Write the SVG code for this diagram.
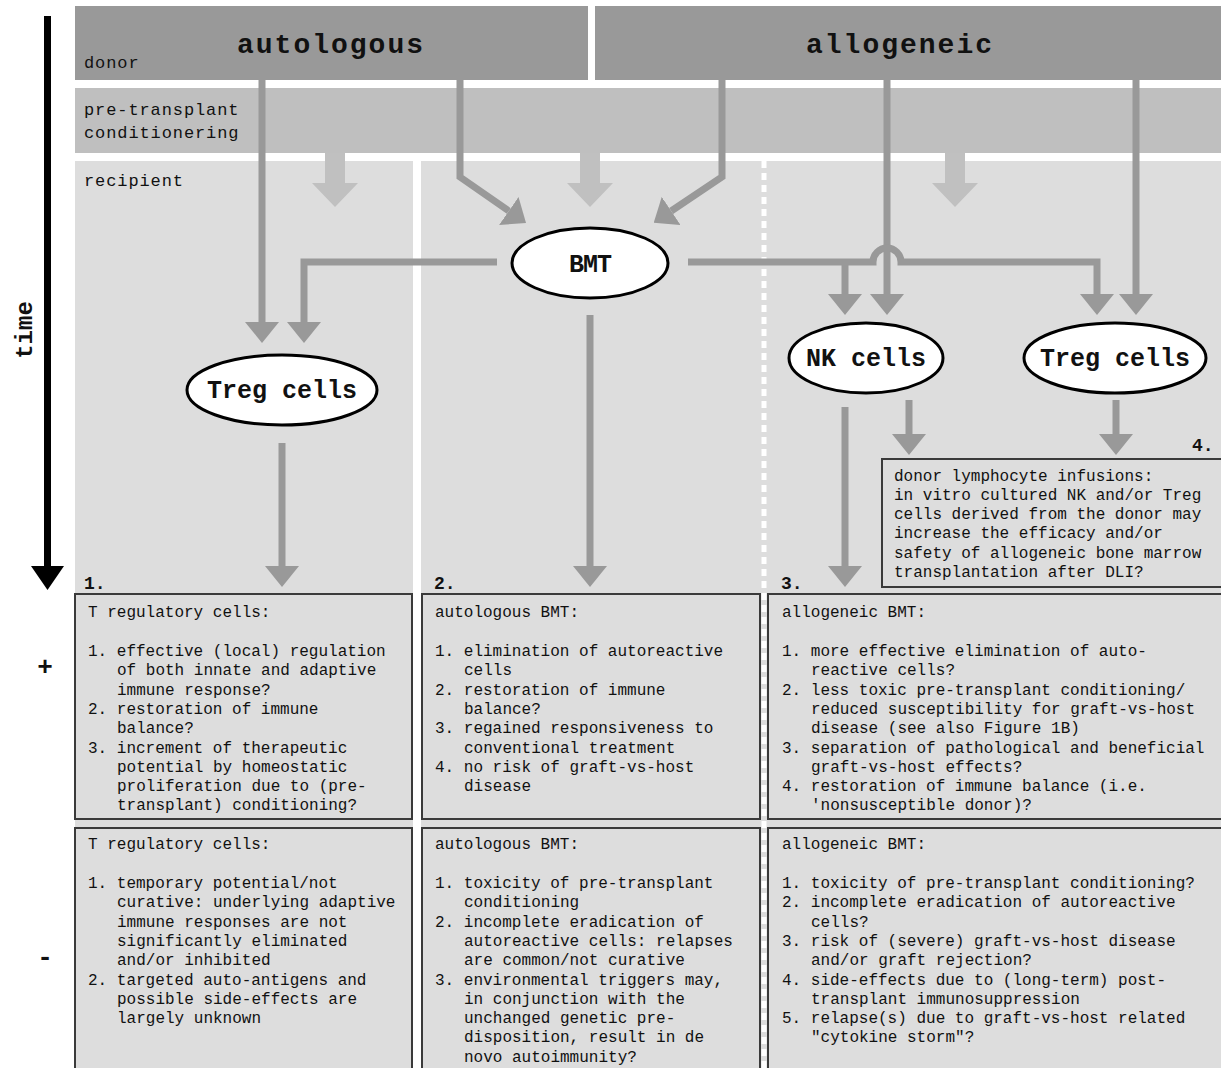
<svg xmlns="http://www.w3.org/2000/svg" width="1221" height="1068" viewBox="0 0 1221 1068">
<style>
.mono{font-family:"Liberation Mono","DejaVu Sans Mono",monospace;fill:#111}
.title{font-size:28px;font-weight:bold;letter-spacing:2px}
.lbl{font-size:17px;letter-spacing:0.9px}
.txt{font-size:16px}
.ell{fill:#fff;stroke:#000;stroke-width:3}
.elltxt{font-size:25px;font-weight:bold}
.box{fill:#dddddd;stroke:#3a3a3a;stroke-width:2}
.conn{fill:none;stroke:#999;stroke-width:7;marker-end:url(#ah)}
.num{font-size:18px;font-weight:bold}
</style>
<defs>
<marker id="ah" markerUnits="userSpaceOnUse" viewBox="0 0 21 34" markerWidth="21" markerHeight="34" refX="0" refY="17" orient="auto">
<path d="M0,0 L21,17 L0,34 z" fill="#999"/>
</marker>
</defs>
<rect width="1221" height="1068" fill="#fff"/>

<g id="bands">
<rect x="75" y="6" width="513" height="74" fill="#999"/>
<rect x="595" y="6" width="626" height="74" fill="#999"/>
<rect x="75" y="88" width="1146" height="65" fill="#bfbfbf"/>
<rect x="75" y="161" width="1146" height="907" fill="#dddddd"/>
<rect x="413" y="161" width="8" height="907" fill="#fff"/>
<line x1="764" y1="161" x2="764" y2="1068" stroke="#fff" stroke-width="5" stroke-dasharray="7 5"/>
<text class="mono title" x="331" y="53" text-anchor="middle">autologous</text>
<text class="mono title" x="900" y="53" text-anchor="middle">allogeneic</text>
<text class="mono lbl" x="84" y="68">donor</text>
<text class="mono lbl" x="84" y="115">pre-transplant</text>
<text class="mono lbl" x="84" y="138">conditionering</text>
<text class="mono lbl" x="84" y="186">recipient</text>
</g>

<g id="conditioning-arrows" fill="#c0c0c0">
<polygon points="325,153 345,153 345,183 358,183 335,207 312,183 325,183"/>
<polygon points="580,153 600,153 600,183 613,183 590,207 567,183 580,183"/>
<polygon points="945,153 965,153 965,183 978,183 955,207 932,183 945,183"/>
</g>

<g id="time-axis">
<line x1="47.5" y1="16" x2="47.5" y2="568" stroke="#000" stroke-width="7"/>
<polygon points="31,566 64,566 47.5,590" fill="#000"/>
<text class="mono" x="32" y="330" font-size="24" font-weight="bold" text-anchor="middle" transform="rotate(-90 32 330)">time</text>
<text class="mono" x="45" y="675" font-size="26" font-weight="bold" text-anchor="middle">+</text>
<text class="mono" x="45" y="965" font-size="26" font-weight="bold" text-anchor="middle">-</text>
</g>

<g id="connectors">
<path class="conn" d="M262,80 V322"/>
<path class="conn" d="M497,262 H304 V322"/>
<path class="conn" d="M460,80 V177 L508.8,211"/>
<path class="conn" d="M722,80 V177 L671.2,211"/>
<path class="conn" d="M887,80 V294"/>
<path class="conn" d="M1136,80 V294"/>
<path class="conn" d="M688,262 H873 A14,14 0 0 1 901,262 H1097 V294"/>
<path class="conn" d="M845,262 V294"/>
<path class="conn" d="M590,315 V566"/>
<path class="conn" d="M282,443 V566"/>
<path class="conn" d="M845,407 V566"/>
<path class="conn" d="M909,400 V434"/>
<path class="conn" d="M1116,400 V434"/>
</g>

<g id="node-bmt">
<ellipse class="ell" cx="590" cy="263" rx="78" ry="35"/>
<text class="mono elltxt" x="590" y="272" text-anchor="middle" font-size="27" letter-spacing="-1">BMT</text>
</g>
<g id="node-treg-auto">
<ellipse class="ell" cx="282" cy="390" rx="95" ry="35"/>
<text class="mono elltxt" x="282" y="398" text-anchor="middle">Treg cells</text>
</g>
<g id="node-nk">
<ellipse class="ell" cx="866" cy="358" rx="77" ry="35"/>
<text class="mono elltxt" x="866" y="366" text-anchor="middle">NK cells</text>
</g>
<g id="node-treg-allo">
<ellipse class="ell" cx="1115" cy="358" rx="91" ry="35"/>
<text class="mono elltxt" x="1115" y="366" text-anchor="middle">Treg cells</text>
</g>

<g id="labels">
<text class="mono num" x="84" y="589">1.</text>
<text class="mono num" x="434" y="589">2.</text>
<text class="mono num" x="781" y="589">3.</text>
<text class="mono num" x="1192" y="451">4.</text>
</g>

<g id="box4">
<rect class="box" x="882" y="459" width="345" height="128"/>
<text class="mono txt" x="894" y="481">donor lymphocyte infusions:</text>
<text class="mono txt" x="894" y="500">in vitro cultured NK and/or Treg</text>
<text class="mono txt" x="894" y="519">cells derived from the donor may</text>
<text class="mono txt" x="894" y="538">increase the efficacy and/or</text>
<text class="mono txt" x="894" y="558">safety of allogeneic bone marrow</text>
<text class="mono txt" x="894" y="577">transplantation after DLI?</text>
</g>

<g id="box1-plus">
<rect class="box" x="75" y="594" width="337" height="225"/>
<text class="mono txt" x="88" y="617">T regulatory cells:</text>
<text class="mono txt" x="88" y="656">1. effective (local) regulation</text>
<text class="mono txt" x="117" y="675.3">of both innate and adaptive</text>
<text class="mono txt" x="117" y="694.6">immune response?</text>
<text class="mono txt" x="88" y="713.9">2. restoration of immune</text>
<text class="mono txt" x="117" y="733.2">balance?</text>
<text class="mono txt" x="88" y="752.5">3. increment of therapeutic</text>
<text class="mono txt" x="117" y="771.8">potential by homeostatic</text>
<text class="mono txt" x="117" y="791.1">proliferation due to (pre-</text>
<text class="mono txt" x="117" y="810.4">transplant) conditioning?</text>
</g>

<g id="box2-plus">
<rect class="box" x="422" y="594" width="338" height="225"/>
<text class="mono txt" x="435" y="617">autologous BMT:</text>
<text class="mono txt" x="435" y="656">1. elimination of autoreactive</text>
<text class="mono txt" x="464" y="675.3">cells</text>
<text class="mono txt" x="435" y="694.6">2. restoration of immune</text>
<text class="mono txt" x="464" y="713.9">balance?</text>
<text class="mono txt" x="435" y="733.2">3. regained responsiveness to</text>
<text class="mono txt" x="464" y="752.5">conventional treatment</text>
<text class="mono txt" x="435" y="771.8">4. no risk of graft-vs-host</text>
<text class="mono txt" x="464" y="791.1">disease</text>
</g>

<g id="box3-plus">
<rect class="box" x="768" y="594" width="460" height="225"/>
<text class="mono txt" x="782" y="617">allogeneic BMT:</text>
<text class="mono txt" x="782" y="656">1. more effective elimination of auto-</text>
<text class="mono txt" x="811" y="675.3">reactive cells?</text>
<text class="mono txt" x="782" y="694.6">2. less toxic pre-transplant conditioning/</text>
<text class="mono txt" x="811" y="713.9">reduced susceptibility for graft-vs-host</text>
<text class="mono txt" x="811" y="733.2">disease (see also Figure 1B)</text>
<text class="mono txt" x="782" y="752.5">3. separation of pathological and beneficial</text>
<text class="mono txt" x="811" y="771.8">graft-vs-host effects?</text>
<text class="mono txt" x="782" y="791.1">4. restoration of immune balance (i.e.</text>
<text class="mono txt" x="811" y="810.4">'nonsusceptible donor)?</text>
</g>

<g id="box1-minus">
<rect class="box" x="75" y="828" width="337" height="250"/>
<text class="mono txt" x="88" y="849">T regulatory cells:</text>
<text class="mono txt" x="88" y="888">1. temporary potential/not</text>
<text class="mono txt" x="117" y="907.3">curative: underlying adaptive</text>
<text class="mono txt" x="117" y="926.6">immune responses are not</text>
<text class="mono txt" x="117" y="945.9">significantly eliminated</text>
<text class="mono txt" x="117" y="965.2">and/or inhibited</text>
<text class="mono txt" x="88" y="984.5">2. targeted auto-antigens and</text>
<text class="mono txt" x="117" y="1003.8">possible side-effects are</text>
<text class="mono txt" x="117" y="1023.1">largely unknown</text>
</g>

<g id="box2-minus">
<rect class="box" x="422" y="828" width="338" height="250"/>
<text class="mono txt" x="435" y="849">autologous BMT:</text>
<text class="mono txt" x="435" y="888">1. toxicity of pre-transplant</text>
<text class="mono txt" x="464" y="907.3">conditioning</text>
<text class="mono txt" x="435" y="926.6">2. incomplete eradication of</text>
<text class="mono txt" x="464" y="945.9">autoreactive cells: relapses</text>
<text class="mono txt" x="464" y="965.2">are common/not curative</text>
<text class="mono txt" x="435" y="984.5">3. environmental triggers may,</text>
<text class="mono txt" x="464" y="1003.8">in conjunction with the</text>
<text class="mono txt" x="464" y="1023.1">unchanged genetic pre-</text>
<text class="mono txt" x="464" y="1042.4">disposition, result in de</text>
<text class="mono txt" x="464" y="1061.7">novo autoimmunity?</text>
</g>

<g id="box3-minus">
<rect class="box" x="768" y="828" width="460" height="250"/>
<text class="mono txt" x="782" y="849">allogeneic BMT:</text>
<text class="mono txt" x="782" y="888">1. toxicity of pre-transplant conditioning?</text>
<text class="mono txt" x="782" y="907.3">2. incomplete eradication of autoreactive</text>
<text class="mono txt" x="811" y="926.6">cells?</text>
<text class="mono txt" x="782" y="945.9">3. risk of (severe) graft-vs-host disease</text>
<text class="mono txt" x="811" y="965.2">and/or graft rejection?</text>
<text class="mono txt" x="782" y="984.5">4. side-effects due to (long-term) post-</text>
<text class="mono txt" x="811" y="1003.8">transplant immunosuppression</text>
<text class="mono txt" x="782" y="1023.1">5. relapse(s) due to graft-vs-host related</text>
<text class="mono txt" x="811" y="1042.4">"cytokine storm"?</text>
</g>
</svg>
